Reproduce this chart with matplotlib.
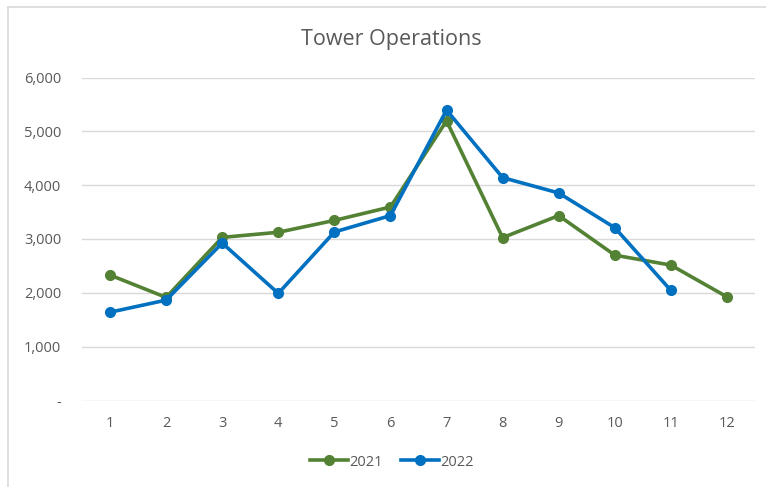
import matplotlib.pyplot as plt
from matplotlib.lines import Line2D
from matplotlib.ticker import FuncFormatter

months = [1, 2, 3, 4, 5, 6, 7, 8, 9, 10, 11, 12]
ops_2021 = [2330, 1915, 3030, 3125, 3345, 3595, 5195, 3025, 3435, 2700, 2515, 1925]
months_2022 = [1, 2, 3, 4, 5, 6, 7, 8, 9, 10, 11]
ops_2022 = [1640, 1865, 2925, 1990, 3130, 3435, 5395, 4140, 3855, 3210, 2045]
y_ticks = [0, 1000, 2000, 3000, 4000, 5000, 6000]

plt.rcParams['font.family'] = ['Open Sans', 'DejaVu Sans']
text_color = "#595959"
green = "#548235"
blue = "#0070C0"

fig = plt.figure(figsize=(7.66, 4.87), dpi=100)
W, H = 766, 487
ax = fig.add_axes([82 / W, 1 - 400.5 / H, (755 - 82) / W, (400.5 - 77.5) / H])

# chart frame (only left and top edges visible)
fig.add_artist(Line2D([7.5 / W, 7.5 / W], [0, 1 - 6.5 / H], color="#D9D9D9", lw=1.2))
fig.add_artist(Line2D([7.5 / W, 1], [1 - 6.5 / H, 1 - 6.5 / H], color="#D9D9D9", lw=1.2))

ax.plot(months, ops_2021, color=green, lw=2.6, marker="o", ms=7, label="2021", zorder=3)
ax.plot(months_2022, ops_2022, color=blue, lw=2.6, marker="o", ms=7, label="2022", zorder=4)

ax.set_xlim(0.5, 12.5)
ax.set_ylim(0, 6000)
ax.set_xticks(months)
ax.set_yticks(y_ticks)
ax.yaxis.set_major_formatter(FuncFormatter(lambda v, p: "-" if v == 0 else f"{int(v):,}"))
ax.grid(axis="y", color="#D9D9D9", lw=1)
ax.set_axisbelow(True)
for s in ax.spines.values():
    s.set_visible(False)
ax.tick_params(length=0, labelsize=10.5, colors=text_color)
ax.tick_params(axis="x", pad=11)
ax.tick_params(axis="y", pad=15)

fig.text(391 / W, 1 - 40 / H, "Tower Operations", ha="center", va="center",
         fontsize=15.5, color=text_color)

leg = fig.legend(loc="center", bbox_to_anchor=(392 / W, 1 - 462 / H), ncol=2,
                 frameon=False, fontsize=10.5, handlelength=2.6, columnspacing=1.2,
                 handletextpad=0.1)
for t in leg.get_texts():
    t.set_color(text_color)

fig.savefig("out.png", dpi=100)
